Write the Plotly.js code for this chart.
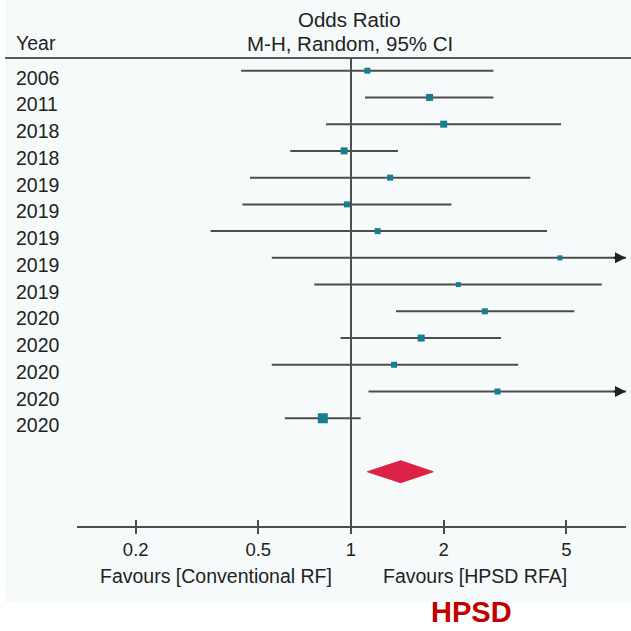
<!DOCTYPE html>
<html>
<head>
<meta charset="utf-8">
<script src="https://cdn.plot.ly/plotly-3.0.1.min.js"></script>
<style>
  html, body { margin: 0; padding: 0; background: #ffffff; }
  #chart { width: 631px; height: 631px; }
</style>
</head>
<body>
<div id="chart"></div>
<script>
// Study rows (top to bottom)
const years   = ['2006','2011','2018','2018','2019','2019','2019','2019','2019','2020','2020','2020','2020','2020'];
const orEst   = [1.13, 1.80, 2.00, 0.95, 1.34, 0.97, 1.22, 4.77, 2.23, 2.72, 1.69, 1.38, 2.99, 0.81];
const ciLow   = [0.44, 1.11, 0.83, 0.635, 0.47, 0.444, 0.35, 0.553, 0.76, 1.40, 0.925, 0.553, 1.14, 0.61];
const ciHigh  = [2.90, 2.90, 4.81, 1.42, 3.82, 2.12, 4.33, 41.0, 6.52, 5.31, 3.07, 3.49, 7.9, 1.075];
const weights = [6, 7, 7, 7, 6, 6, 6, 5, 5, 6, 7, 6, 6, 10];

// Pooled estimate (random effects)
const pooledEst  = 1.45;
const pooledLow  = 1.13;
const pooledHigh = 1.85;

// Axis ticks
const tickVals  = [0.2, 0.5, 1, 2, 5];
const tickTexts = ['0.2', '0.5', '1', '2', '5'];

const FONT = '"Liberation Sans", Arial, Helvetica, sans-serif';
const TXT = '#222222';
const LINE = '#4d4d4d';
const TEAL = '#167e8e';
const RED = '#dc2145';

const xRange = [-0.8896, 0.8929];          // log10 units
const xMax = Math.pow(10, xRange[1]);
const rows = years.map((_, i) => i);
const pooledRow = years.length + 1;
const yRange = [pooledRow + 2.03, -0.475];

// Study estimates with confidence intervals
const studies = {
  type: 'scatter', mode: 'markers',
  x: orEst, y: rows,
  marker: { symbol: 'square', color: TEAL, size: weights, opacity: 1, line: { width: 0 } },
  error_x: {
    type: 'data', symmetric: false,
    array: orEst.map((v, i) => ciHigh[i] - v),
    arrayminus: orEst.map((v, i) => v - ciLow[i]),
    color: LINE, thickness: 2, width: 0
  },
  hoverinfo: 'skip', showlegend: false
};

// Pooled diamond
const dh = 0.41;
const diamond = {
  type: 'scatter', mode: 'lines', xaxis: 'x2',
  x: [pooledLow, pooledEst, pooledHigh, pooledEst, pooledLow],
  y: [pooledRow, pooledRow - dh, pooledRow, pooledRow + dh, pooledRow],
  fill: 'toself', fillcolor: RED, line: { color: RED, width: 1 },
  hoverinfo: 'skip', showlegend: false
};

// Year labels on the left
const annotations = years.map((yr, i) => ({
  xref: 'paper', yref: 'y', x: -0.115, y: i, xanchor: 'left', yanchor: 'middle',
  yshift: -7, text: yr, showarrow: false,
  font: { family: FONT, size: 19.5, color: TXT }
}));

// Arrows for intervals running off the right edge
ciHigh.forEach((hi, i) => {
  if (hi > xMax) {
    annotations.push({
      xref: 'paper', yref: 'y', x: 1, y: i, ax: -14, ay: 0, axref: 'pixel', ayref: 'pixel',
      text: '', showarrow: true, arrowhead: 2, arrowsize: 1.1, arrowwidth: 2, arrowcolor: '#222222'
    });
  }
});

// Header and footer text
const hdr = (text, x, y, anchor, size) => ({
  xref: 'paper', yref: 'paper', x, y, xanchor: anchor, yanchor: 'middle',
  text, showarrow: false, font: { family: FONT, size, color: TXT }
});
annotations.push(hdr('Odds Ratio', 0.497, 1.083, 'center', 20.5));
annotations.push(hdr('M-H, Random, 95% CI', 0.497, 1.031, 'center', 20.5));
annotations.push(hdr('Year', -0.115, 1.031, 'left', 19.5));
annotations.push(hdr('Favours [Conventional RF]', 0.2526, -0.107, 'center', 19.5));
annotations.push(hdr('Favours [HPSD RFA]', 0.725, -0.107, 'center', 19.5));
annotations.push({
  xref: 'paper', yref: 'paper', x: 0.719, y: -0.1846, xanchor: 'center', yanchor: 'middle',
  text: '<b>HPSD</b>', showarrow: false,
  font: { family: FONT, size: 29, color: '#c00000' }
});

const shapes = [
  // light panel behind the plot
  { type: 'rect', xref: 'paper', yref: 'paper', x0: -0.1311, x1: 1.0091, y0: -0.163, y1: 1.124,
    fillcolor: '#f7fafb', line: { width: 0 }, layer: 'below' },
  // header rule
  { type: 'line', xref: 'paper', yref: 'paper', x0: -0.131, x1: 1.0091, y0: 1, y1: 1,
    line: { color: '#5a5a5a', width: 2 } },
  // line of no effect
  { type: 'line', xref: 'x', yref: 'paper', x0: 1, x1: 1, y0: 0, y1: 1,
    line: { color: LINE, width: 2 } }
];

const axisCommon = {
  type: 'log', range: xRange, tickmode: 'array', tickvals: tickVals,
  showgrid: false, zeroline: false, fixedrange: true,
  tickwidth: 2, tickcolor: LINE, ticklen: 6
};

const layout = {
  width: 631, height: 631,
  margin: { l: 77, r: 5, t: 58, b: 104.5 },
  paper_bgcolor: '#ffffff', plot_bgcolor: 'rgba(0,0,0,0)',
  showlegend: false,
  xaxis: Object.assign({}, axisCommon, {
    ticktext: tickTexts, ticks: 'outside',
    showline: true, linecolor: LINE, linewidth: 2,
    tickfont: { family: FONT, size: 18.5, color: TXT }
  }),
  xaxis2: Object.assign({}, axisCommon, {
    overlaying: 'x', anchor: 'y', side: 'bottom',
    ticks: 'inside', showticklabels: false, showline: false
  }),
  yaxis: {
    range: yRange, showgrid: false, zeroline: false, showline: false,
    showticklabels: false, ticks: '', fixedrange: true
  },
  shapes, annotations
};

Plotly.newPlot('chart', [studies, diamond], layout, { displayModeBar: false, staticPlot: true });
</script>
</body>
</html>
